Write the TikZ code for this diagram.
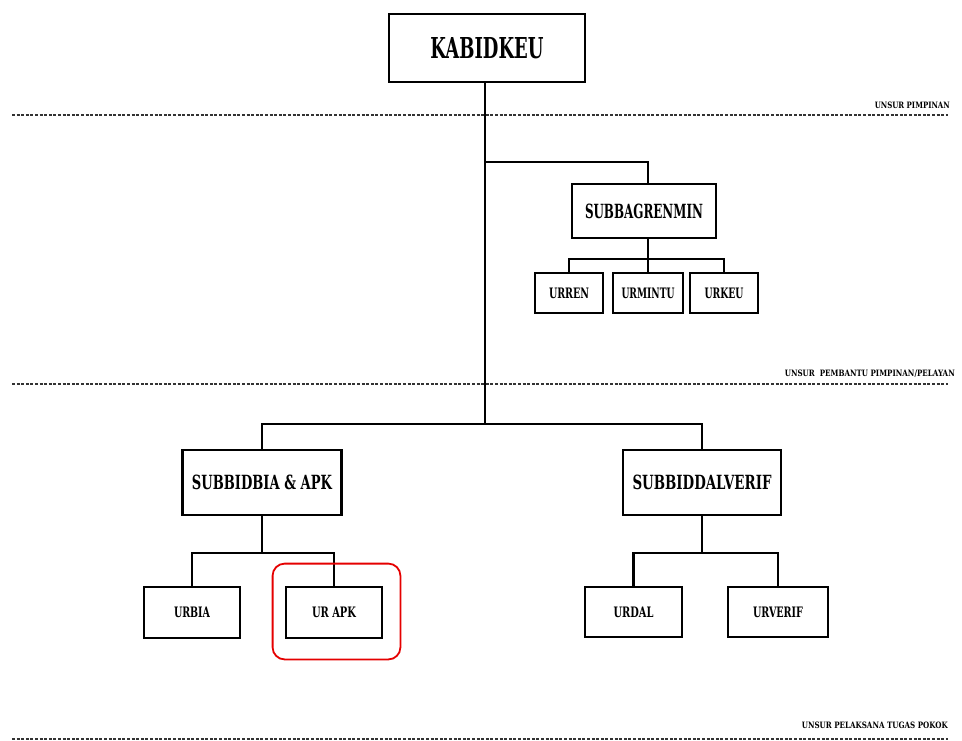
\documentclass[tikz,border=0pt]{standalone}
\usepackage{fontspec}
\setmainfont{DejaVu Serif}
\usepackage{graphicx}
\newcommand\fitt[3]{\resizebox{#1pt}{#2pt}{\bfseries #3}}
\begin{document}
\begin{tikzpicture}[x=1pt,y=-1pt,
  box/.style={draw=black, line width=2.8pt, inner sep=0pt, fill=white},
  conn/.style={line width=2.6pt, line cap=rect},
  sep/.style={line width=1.8pt, dash pattern=on 3pt off 1.6pt, color=black!80},
  lab/.style={anchor=east, inner sep=0pt}]
\useasboundingbox (0,0) rectangle (962,740);
% separators
\draw[sep] (12,115) -- (948,115);
\draw[sep] (12,384) -- (948,384);
\draw[sep] (12,739) -- (948,739);
\node[lab] (l1) at (950,105) {\fitt{75}{6.5}{UNSUR PIMPINAN}};
\node[lab] (l2) at (955,373.5) {\fitt{170}{6.5}{UNSUR\ \ PEMBANTU PIMPINAN/PELAYAN}};
\node[lab] (l3) at (948,725.5) {\fitt{146}{6.5}{UNSUR PELAKSANA TUGAS POKOK}};
% coordinates
\coordinate (j1) at (485,162);
\coordinate (j2) at (485,424);
\coordinate (b1) at (647,259);
\coordinate (b2) at (262,553);
\coordinate (b3) at (702,553);
% boxes
\node[box, minimum width=196pt, minimum height=68pt] (kab) at (487,48) {\fitt{113}{21}{KABIDKEU}};
\node[box, minimum width=144pt, minimum height=54pt] (sbr) at (644,211) {\fitt{118}{14.5}{SUBBAGRENMIN}};
\node[box, minimum width=68pt, minimum height=40pt] (urren) at (569,293) {\fitt{40}{10.5}{URREN}};
\node[box, minimum width=70pt, minimum height=40pt] (urmintu) at (648,293) {\fitt{53}{10.5}{URMINTU}};
\node[box, minimum width=68pt, minimum height=40pt] (urkeu) at (724,293) {\fitt{39}{10.5}{URKEU}};
\node[box, minimum width=159pt, minimum height=65pt] (sbi) at (262,482.5) {\fitt{140}{14.5}{SUBBIDBIA \& APK}};
\node[box, minimum width=158pt, minimum height=65pt] (sbd) at (702,482.5) {\fitt{139}{14.5}{SUBBIDDALVERIF}};
\node[box, minimum width=96pt, minimum height=51pt] (urbia) at (192,612.5) {\fitt{36}{10.5}{URBIA}};
\node[box, minimum width=96pt, minimum height=51pt] (urapk) at (334,612.5) {\fitt{44}{10.5}{UR APK}};
\node[box, minimum width=97pt, minimum height=50pt] (urdal) at (633.5,612) {\fitt{40}{10.5}{URDAL}};
\node[box, minimum width=100pt, minimum height=50pt] (urverif) at (778,612) {\fitt{50}{10.5}{URVERIF}};
% connectors
\draw[conn] (kab.south -| j2) -- (j2);
\draw[conn] (j1) -| (sbr.north -| urmintu.north);
\draw[conn] (sbi.north) |- (j2) -| (sbd.north);
\draw[conn] (sbr.south -| urmintu.north) -- (urmintu.north);
\draw[conn] (urren.north) |- (b1) -| (urkeu.north);
\draw[conn] (sbi.south) -- (b2);
\draw[conn] (urbia.north) |- (b2) -| (urapk.north);
\draw[conn] (sbd.south) -- (b3);
\draw[conn] (urdal.north) |- (b3) -| (urverif.north);
% highlight
\draw[red!90!black, line width=1.8pt, rounded corners=12pt] ([shift={(-12,-22)}]urapk.north west) rectangle ([shift={(17,20)}]urapk.south east);
\end{tikzpicture}
\end{document}
